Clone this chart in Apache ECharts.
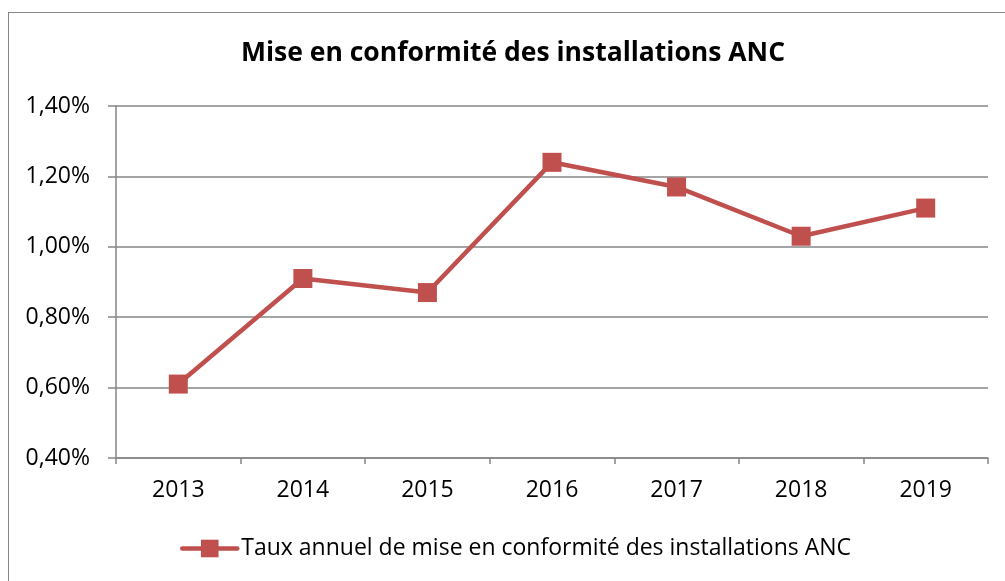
<!DOCTYPE html>
<html>
<head>
<meta charset="utf-8">
<script src="https://cdn.jsdelivr.net/npm/echarts@6/dist/echarts.min.js"></script>
<style>
  html, body { margin: 0; padding: 0; background: #fff; }
  #frame { position: absolute; left: 8px; top: 12px; width: 1100px; height: 700px; border: 1.5px solid #868686; box-sizing: border-box; }
  #chart { position: absolute; left: 0; top: 0; width: 1005px; height: 581px; }
</style>
</head>
<body>
<div id="frame"></div>
<div id="chart"></div>
<script>
const titleText = 'Mise en conformité des installations ANC';
const seriesName = 'Taux annuel de mise en conformité des installations ANC';
const years = ['2013', '2014', '2015', '2016', '2017', '2018', '2019'];
const rates = [0.61, 0.91, 0.87, 1.24, 1.17, 1.03, 1.11];
const yMin = 0.4, yMax = 1.4, yStep = 0.2;

const FONT = '"Open Sans", "Noto Sans", sans-serif';
const GRID = '#868686';
const RED = '#C0504D';

const chart = echarts.init(document.getElementById('chart'), null, { renderer: 'canvas' });
chart.setOption({
  animation: false,
  backgroundColor: 'transparent',
  title: {
    text: titleText,
    left: 513,
    textAlign: 'center',
    top: 40,
    padding: 0,
    textStyle: { fontFamily: FONT, fontWeight: 'bold', fontSize: 26.5, color: '#000' }
  },
  legend: {
    left: 180,
    top: 537,
    padding: 0,
    itemWidth: 55,
    itemHeight: 22,
    itemGap: 4,
    lineStyle: { width: 4.5, cap: 'round' },
    textStyle: { fontFamily: FONT, fontSize: 23, color: '#000', padding: [0, 0, 0, -1] },
    data: [{ name: seriesName }]
  },
  grid: { left: 116, right: 17, top: 106, bottom: 123, containLabel: false },
  xAxis: {
    type: 'category',
    data: years,
    boundaryGap: true,
    axisLine: { show: true, lineStyle: { color: GRID, width: 1.5 } },
    axisTick: { show: true, length: 6, alignWithLabel: false, lineStyle: { color: GRID, width: 1.5 } },
    axisLabel: { fontFamily: FONT, fontSize: 23, color: '#000', margin: 21 },
    splitLine: { show: false }
  },
  yAxis: {
    type: 'value',
    min: yMin,
    max: yMax,
    interval: yStep,
    axisLine: { show: true, lineStyle: { color: GRID, width: 1.5 } },
    axisTick: { show: true, inside: false, length: 8, lineStyle: { color: GRID, width: 1.5 } },
    axisLabel: {
      fontFamily: FONT, fontSize: 23, color: '#000', margin: 26,
      formatter: v => v.toFixed(2).replace('.', ',') + '%'
    },
    splitLine: { show: true, lineStyle: { color: GRID, width: 1.5 } }
  },
  series: [{
    name: seriesName,
    type: 'line',
    data: rates,
    symbol: 'rect',
    symbolSize: 19,
    lineStyle: { color: RED, width: 4.5 },
    itemStyle: { color: RED },
    z: 5
  }]
});
</script>
</body>
</html>
